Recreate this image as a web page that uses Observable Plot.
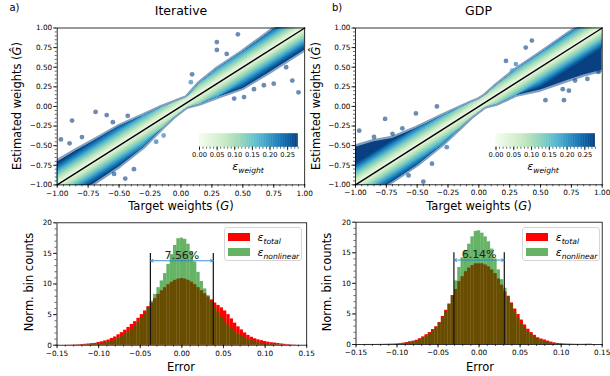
<!DOCTYPE html>
<html><head><meta charset="utf-8">
<script src="https://cdn.jsdelivr.net/npm/d3@7"></script>
<script src="https://cdn.jsdelivr.net/npm/@observablehq/plot@0.6"></script>
<style>
body{margin:0;background:#fff;}
#fig{position:relative;width:610px;height:376px;overflow:hidden;font-family:'DejaVu Sans',sans-serif;color:#000;background:#fff;}
#fig svg{position:absolute;left:0;top:0;}
.t{position:absolute;white-space:nowrap;line-height:1;}
.leg{position:absolute;border:1px solid #d6d6d6;border-radius:3px;background:rgba(255,255,255,0.85);box-sizing:border-box;}
.sw{position:absolute;width:21.7px;height:7.7px;}
.lt{position:absolute;white-space:nowrap;line-height:1;transform:translateY(-50%);}
</style></head><body><div id="fig"></div>
<script>
// ---------- data ----------
const panelTitles = ["Iterative", "GDP"];
const panelTags = ["a)", "b)"];
const scatTicks = [-1, -0.75, -0.5, -0.25, 0, 0.25, 0.5, 0.75, 1];
const histXTicks = [-0.15, -0.1, -0.05, 0, 0.05, 0.1, 0.15];
const histYTicks = [0, 5, 10, 15, 20];
const cbTicks = [0, 0.05, 0.1, 0.15, 0.2, 0.25];
const cbMax = 0.28;
const seriesNames = ["total", "nonlinear"];

// scatter band: half-widths (above / below the diagonal) of the dense cloud at target weights bandX
const bandX   = [-1, -0.85, -0.7, -0.5, -0.3, -0.15, -0.05, 0, 0.05, 0.15, 0.3, 0.5, 0.7, 0.85, 1];
const bandUpA = [0.29, 0.28, 0.26, 0.24, 0.18, 0.14, 0.10, 0.08, 0.06, 0.14, 0.18, 0.19, 0.22, 0.25, 0.28];
const bandLoA = [0.29, 0.29, 0.28, 0.27, 0.22, 0.13, 0.08, 0.07, 0.06, 0.12, 0.18, 0.27, 0.28, 0.28, 0.28];
const bandUpB = [0.48, 0.40, 0.29, 0.22, 0.17, 0.13, 0.10, 0.08, 0.08, 0.12, 0.16, 0.17, 0.19, 0.20, 0.20];
const bandLoB = [0.24, 0.25, 0.26, 0.25, 0.20, 0.13, 0.08, 0.07, 0.06, 0.12, 0.16, 0.29, 0.38, 0.45, 0.54];
// isolated points outside the band
const outAX = [-0.97, -0.88, -0.9, -0.8, -0.69, -0.6, -0.43, -0.55, -0.45, -0.54, -0.38, -0.14, -0.2, 0.09, 0.08, 0.29, 0.29, 0.46, 0.37, 0.9, 0.95, 0.85, 0.67, 0.75, 0.59, 0.51, 0.43];
const outAY = [-0.42, -0.18, -0.47, -0.39, -0.07, -0.11, -0.12, -0.2, -0.92, -0.86, -0.8, -0.37, -0.45, 0.41, 0.31, 0.82, 0.72, 0.92, 0.67, 0.33, 0.18, 0.5, 0.27, 0.29, 0.22, 0.12, 0.1];
const outBX = [-0.97, -0.76, -0.51, -0.34, -0.62, -0.85, -0.7, -0.45, -0.38, -0.26, -0.57, 0.22, 0.3, 0.38, 0.43, 0.27, 0.88, 0.69, 0.54, 0.68, 0.78, 0.97, 0.91, 0.73];
const outBY = [-0.31, -0.16, -0.09, 0.0, -0.28, -0.39, -0.35, -0.96, -0.73, -0.52, -0.88, 0.58, 0.54, 0.75, 0.84, 0.46, 0.35, 0.08, 0.08, 0.22, 0.33, 0.44, 0.5, 0.2];

// error histograms: 69 bins of width 0.004 starting at -0.138
const binStart = -0.138, binW = 0.004;
const redA = [0.02,0.03,0.05,0.07,0.1,0.15,0.2,0.25,0.3,0.45, 0.55,0.7,0.85,1.1,1.35,1.7,2.05,2.45,2.9,3.4, 3.85,4.4,5.0,5.6,6.3,6.9,7.6,8.3,8.9,9.4, 9.9,10.3,10.6,10.8,
  10.9,
  10.8,10.6,10.3,9.9,9.4,8.9,8.4,7.9,7.4,6.9, 6.5,6.1,5.6,5.0,4.3,3.6,3.0,2.5,2.0,1.6, 1.3,1.05,0.88,0.75,0.6,0.5,0.4,0.35,0.28,0.2, 0.14,0.09,0.05,0.03];
const greenA = [0,0,0.01,0.02,0.03,0.05,0.07,0.11,0.16,0.22, 0.3,0.4,0.52,0.68,0.88,1.1,1.4,1.75,2.15,2.6, 3.1,3.7,4.4,5.2,6.1,7.2,8.3,9.4,10.5,11.7, 13.2,14.8,16.3,17.4,
  17.5,
  17.3,16.5,15.2,13.6,11.9,10.4,9.2,8.1,7.1,6.2, 5.4,4.6,3.9,3.3,2.7,2.25,1.85,1.5,1.2,0.95, 0.75,0.56,0.42,0.32,0.24,0.17,0.12,0.08,0.05,0.03, 0.02,0.01,0,0];
const redB = [0.01,0.01,0.01,0.02,0.02,0.03,0.04,0.05,0.06,0.08, 0.13,0.22,0.32,0.45,0.55,0.7,0.95,1.25,1.6,1.95, 2.45,2.9,3.6,4.6,5.6,6.6,8.0,9.0,10.3,11.1, 11.9,12.5,12.9,13.2,
  13.2,
  13.2,13.0,12.7,12.2,11.6,10.7,9.7,8.6,7.9,6.8, 5.8,4.9,4.0,3.2,2.5,1.95,1.5,1.1,0.9,0.75, 0.55,0.4,0.27,0.17,0.12,0.08,0.06,0.05,0.04,0.03, 0.03,0.03,0.05,0.05];
const greenB = [0,0,0,0,0,0,0.01,0.02,0.03,0.05, 0.08,0.13,0.2,0.28,0.4,0.55,0.75,1.0,1.3,1.7, 2.2,2.8,3.5,4.4,5.4,6.6,8.0,10.4,12.6,14.2, 15.4,16.4,17.6,18.5,
  18.6,
  18.2,17.6,16.8,15.6,14.0,12.2,10.6,9.2,7.8,6.5, 5.3,4.3,3.4,2.7,2.1,1.6,1.2,0.9,0.65,0.45, 0.32,0.22,0.15,0.1,0.06,0.04,0.02,0.01,0,0, 0,0,0,0];
const spreadA = 0.0756, spreadB = 0.0614;   // width of the marked error interval
const spreadRuleTop = 15, spreadArrowY = 13.8, spreadTextY = 14.7;

// ---------- helpers ----------
const fig = document.getElementById("fig");
const W = 610, H = 376;
const fmt2 = d3.format(".2f");
const svgStyle = "background:transparent;overflow:visible;font-family:'DejaVu Sans',sans-serif;font-size:7.3px;color:#000;";
const cbStyle = svgStyle.replace("7.3px", "6.7px");
const colorOpt = {type: "linear", scheme: "GnBu", domain: [0, cbMax], clamp: true};
function margins(f) { return {marginLeft: f.l, marginRight: W - f.r, marginTop: f.t, marginBottom: H - f.b}; }
function axes(xMajor, xMinor, yMajor, yMinor, xf, yf) {
  const m = [
    Plot.axisX(xMajor, {anchor: "bottom", tickSize: 3.5, tickPadding: 2, tickFormat: xf, label: null, strokeWidth: 0.8}),
    Plot.axisX(xMinor, {anchor: "bottom", tickSize: 2, tickFormat: () => "", label: null, strokeWidth: 0.6})
  ];
  if (yMajor) m.push(
    Plot.axisY(yMajor, {anchor: "left", tickSize: 3.5, tickPadding: 1.5, tickFormat: yf, label: null, strokeWidth: 0.8}),
    Plot.axisY(yMinor, {anchor: "left", tickSize: 2, tickFormat: () => "", label: null, strokeWidth: 0.6})
  );
  return m;
}
function minor(lo, hi, step) { return d3.range(Math.round((hi - lo) / step) + 1).map(i => +(lo + i * step).toFixed(4)); }

function scatter(f, up, lo, ox, oy) {
  const knots = bandX.map((x, i) => ({x, up: up[i], lo: lo[i]}));
  const levels = [0.7, 0.28, 0.26, 0.24, 0.22, 0.2, 0.18, 0.16, 0.14, 0.12, 0.1, 0.08, 0.06, 0.04, 0.02];
  const marks = [];
  // soft semi-transparent rim standing for the individual points at the cloud's edge
  marks.push(Plot.areaY(knots, {x: "x", y1: d => d.x - d.lo, y2: d => d.x + d.up, fill: "none", stroke: () => 0.3,
    strokeWidth: 4.5, strokeLinejoin: "round", strokeOpacity: 0.5, clip: true}));
  for (const L of levels) {
    marks.push(Plot.areaY(knots, {x: "x", y1: d => d.x - Math.min(d.lo, L), y2: d => d.x + Math.min(d.up, L), fill: () => L, clip: true, curve: "linear"}));
  }
  const pts = ox.map((x, i) => ({x, y: oy[i]}));
  marks.push(Plot.dot(pts, {x: "x", y: "y", r: 2.4, fill: d => Math.abs(d.y - d.x), fillOpacity: 0.6, clip: true}));
  marks.push(Plot.line([scatTicks[0], scatTicks[scatTicks.length - 1]], {x: d => d, y: d => d, stroke: "black", strokeWidth: 1.4}));
  marks.push(...axes(scatTicks, minor(-1, 1, 0.05), scatTicks, minor(-1, 1, 0.05), fmt2, fmt2));
  marks.push(Plot.frame({stroke: "black", strokeWidth: 0.8}));
  return Plot.plot({width: W, height: H, ...margins(f), style: svgStyle,
    x: {domain: [-1, 1]}, y: {domain: [-1, 1]}, color: colorOpt, marks});
}

function colorbar(f) {
  const step = 0.002;
  const steps = d3.range(0, cbMax - 1e-9, step);
  return Plot.plot({width: W, height: H, ...margins(f), style: cbStyle,
    x: {domain: [0, cbMax]}, y: {domain: [0, 1], axis: null}, color: colorOpt,
    marks: [
      Plot.rect(steps, {x1: d => d, x2: d => Math.min(d + step * 1.6, cbMax), y1: 0, y2: 1, fill: d => d + step / 2, inset: 0}),
      ...axes(cbTicks, minor(0, 0.28, 0.01), null, null, fmt2, null)
    ]});
}

function hist(f, red, green, spread) {
  const rows = red.map((v, i) => ({x1: binStart + i * binW, x2: binStart + (i + 1) * binW, red: v, green: green[i]}));
  const h = spread / 2;
  return Plot.plot({width: W, height: H, ...margins(f), style: svgStyle,
    x: {domain: [histXTicks[0], histXTicks[histXTicks.length - 1]]}, y: {domain: [histYTicks[0], histYTicks[histYTicks.length - 1]]},
    marks: [
      Plot.rectY(rows, {x1: "x1", x2: "x2", y: "red", fill: "#ff0000", inset: 0}),
      Plot.rectY(rows, {x1: "x1", x2: "x2", y: "green", fill: "green", fillOpacity: 0.6, inset: 0}),
      Plot.ruleX([-h, h], {y1: 0, y2: spreadRuleTop, stroke: "#111", strokeWidth: 1.2}),
      Plot.arrow([{a: 0, b: -h}, {a: 0, b: h}], {x1: "a", x2: "b", y1: spreadArrowY, y2: spreadArrowY, stroke: "#2c86c9", strokeWidth: 0.9, headLength: 5, headAngle: 50}),
      Plot.text([`${(spread * 100).toFixed(2)}%`], {x: 0, y: spreadTextY, text: d => d, fontSize: 11, fill: "#222"}),
      ...axes(histXTicks, minor(-0.15, 0.15, 0.01), histYTicks, minor(0, 20, 1), fmt2, d => String(d)),
      Plot.frame({stroke: "black", strokeWidth: 0.8})
    ]});
}

function label(html, x, y, size, rot) {
  const d = document.createElement("div");
  d.className = "t";
  d.innerHTML = html;
  d.style.left = x + "px"; d.style.top = y + "px"; d.style.fontSize = size + "px";
  d.style.transform = "translate(-50%,-50%)" + (rot ? ` rotate(${rot}deg)` : "");
  fig.appendChild(d);
}
function eps(sub) {
  return `<span style="font-style:italic;font-size:11px">ε</span><span style="font-style:italic;font-size:7.6px;position:relative;top:2.6px">${sub}</span>`;
}
function legend(x, y) {
  const box = document.createElement("div");
  box.className = "leg";
  Object.assign(box.style, {left: x + "px", top: y + "px", width: "78.5px", height: "34.5px"});
  const cols = ["#ff0000", "rgba(0,128,0,0.6)"];
  seriesNames.forEach((s, i) => {
    const top = 5.5 + i * 15;
    box.insertAdjacentHTML("beforeend",
      `<span class="sw" style="left:3.5px;top:${top}px;background:${cols[i]}"></span>` +
      `<span class="lt" style="left:33px;top:${top + 3}px">${eps(s)}</span>`);
  });
  fig.appendChild(box);
}

// ---------- frames ----------
const fScatA = {l: 56.7, r: 304.2, t: 27.5, b: 184.4};
const fScatB = {l: 355, r: 601.7, t: 27.5, b: 184.3};
const fHistA = {l: 56.5, r: 306.2, t: 222.3, b: 344.7};
const fHistB = {l: 355.5, r: 601.7, t: 221.7, b: 344};
const fCbA = {l: 199, r: 297.7, t: 133.3, b: 146.7};
const fCbB = {l: 495.5, r: 595, t: 133.3, b: 146.7};

fig.appendChild(scatter(fScatA, bandUpA, bandLoA, outAX, outAY));
fig.appendChild(scatter(fScatB, bandUpB, bandLoB, outBX, outBY));
fig.appendChild(colorbar(fCbA));
fig.appendChild(colorbar(fCbB));
fig.appendChild(hist(fHistA, redA, greenA, spreadA));
fig.appendChild(hist(fHistB, redB, greenB, spreadB));

// ---------- texts ----------
label(panelTags[0], 14.5, 7.5, 10);
label(panelTags[1], 337, 7.5, 10);
label(panelTitles[0], 181, 10.5, 12.5);
label(panelTitles[1], 478.5, 10.5, 12.5);
const yLabS = 'Estimated weights (<i>Ĝ</i>)';
label(yLabS, 17.5, 106, 11.5, -90);
label(yLabS, 316.5, 106, 11.5, -90);
const xLabS = 'Target weights (<i>G</i>)';
label(xLabS, 181, 206.5, 11.5);
label(xLabS, 479, 206.5, 11.5);
label('Norm. bin counts', 30, 282, 11.5, -90);
label('Norm. bin counts', 328, 282, 11.5, -90);
label('Error', 181, 367.5, 11.5);
label('Error', 480, 367.5, 11.5);
label(eps("weight"), 248, 166, 11);
label(eps("weight"), 543, 166, 11);
legend(223.5, 226.7);
legend(521.7, 226.7);
</script></body></html>
